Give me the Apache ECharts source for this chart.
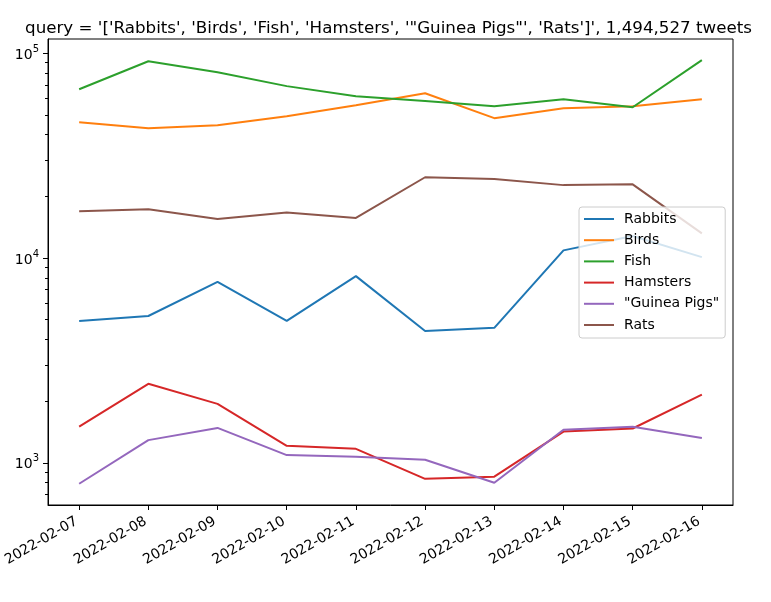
<!DOCTYPE html>
<html>
<head>
<meta charset="utf-8">
<script src="https://cdn.jsdelivr.net/npm/echarts@6/dist/echarts.min.js"></script>
<style>
html,body{margin:0;padding:0;background:#fff;}
#chart{width:771px;height:602px;}
</style>
</head>
<body>
<div id="chart"></div>
<script>
const dates = ['2022-02-07','2022-02-08','2022-02-09','2022-02-10','2022-02-11','2022-02-12','2022-02-13','2022-02-14','2022-02-15','2022-02-16'];
const seriesNames = ['Rabbits','Birds','Fish','Hamsters','"Guinea Pigs"','Rats'];
const rabbits  = [4930, 5210, 7640, 4930, 8160, 4400, 4560, 10900, 12800, 10100];
const birds    = [46000, 43000, 44500, 49300, 55700, 63800, 48200, 53900, 55100, 59700];
const fish     = [66700, 91400, 80700, 69100, 61600, 58400, 55100, 59700, 54500, 92500];
const hamsters = [1500, 2430, 1940, 1210, 1170, 835, 855, 1420, 1470, 2150];
const guinea   = [790, 1290, 1480, 1090, 1070, 1035, 799, 1450, 1500, 1320];
const rats     = [16900, 17300, 15500, 16700, 15700, 24800, 24300, 22700, 22900, 13200];
const majorTicks = [1000, 10000, 100000];
const minorTicks = [700, 800, 900, 2000, 3000, 4000, 5000, 6000, 7000, 8000, 9000, 20000, 30000, 40000, 50000, 60000, 70000, 80000, 90000];
const titleText = "query = '['Rabbits', 'Birds', 'Fish', 'Hamsters', '\"Guinea Pigs\"', 'Rats']', 1,494,527 tweets";

const colors = ['#1f77b4','#ff7f0e','#2ca02c','#d62728','#9467bd','#8c564b'];
const allData = [rabbits, birds, fish, hamsters, guinea, rats];
const idx = dates.map((d, i) => i);
const font = 'DejaVu Sans';

const chart = echarts.init(document.getElementById('chart'), null, {renderer: 'canvas'});
const yMin = 622, yMax = 117400;
const option = {
  animation: false,
  backgroundColor: '#ffffff',
  color: colors,
  title: {
    text: titleText,
    left: 383.5,
    textAlign: 'center',
    top: 15,
    textStyle: {fontFamily: font, fontSize: 16.7, fontWeight: 'normal', color: '#000'}
  },
  grid: {
    left: 48, right: 38, top: 39, bottom: 97,
    show: true, borderColor: '#000', borderWidth: 1, backgroundColor: 'transparent'
  },
  legend: {
    orient: 'vertical',
    left: 579, top: 207,
    padding: [5, 6, 6, 5],
    itemGap: 7.2,
    itemWidth: 30, itemHeight: 2,
    icon: 'rect',
    backgroundColor: 'rgba(255,255,255,0.8)',
    borderColor: '#cccccc', borderWidth: 1, borderRadius: 3,
    textStyle: {fontFamily: font, fontSize: 14, color: '#000', lineHeight: 14, padding: [0,0,0,5]},
    data: seriesNames
  },
  xAxis: {
    type: 'value',
    min: -0.45, max: 9.45,
    splitLine: {show: false},
    axisLine: {show: true, onZero: false, lineStyle: {color: '#000', width: 1}},
    axisTick: {show: true, customValues: idx, length: 5, lineStyle: {color: '#000'}},
    axisLabel: {
      customValues: idx, rotate: 30, margin: 14,
      fontFamily: font, fontSize: 14, color: '#000',
      padding: [0, 3, 0, 0],
      formatter: v => dates[Math.round(v)]
    }
  },
  yAxis: [{
    type: 'log', logBase: 10, min: yMin, max: yMax,
    splitLine: {show: false},
    axisLine: {show: true, onZero: false, lineStyle: {color: '#000', width: 1}},
    axisTick: {show: true, customValues: majorTicks, length: 5, lineStyle: {color: '#000'}},
    axisLabel: {
      customValues: majorTicks, margin: 9, color: '#000',
      formatter: v => '{b|10}{s|' + Math.round(Math.log10(v)) + '}',
      rich: {
        b: {fontFamily: font, fontSize: 14, color: '#000', lineHeight: 18, verticalAlign: 'bottom'},
        s: {fontFamily: font, fontSize: 10, color: '#000', lineHeight: 18, verticalAlign: 'top', padding: [0,0,0,0]}
      }
    }
  }, {
    type: 'log', logBase: 10, min: yMin, max: yMax, position: 'left',
    splitLine: {show: false},
    axisLine: {show: false, onZero: false},
    axisTick: {show: true, customValues: minorTicks, length: 3, lineStyle: {color: '#000'}},
    axisLabel: {show: false}
  }],
  series: seriesNames.map((name, k) => ({
    name: name,
    type: 'line',
    yAxisIndex: 0,
    showSymbol: false,
    symbol: 'none',
    lineStyle: {width: 2, color: colors[k]},
    itemStyle: {color: colors[k]},
    data: idx.map(i => [i, allData[k][i]])
  }))
};
chart.setOption(option);
</script>
</body>
</html>
